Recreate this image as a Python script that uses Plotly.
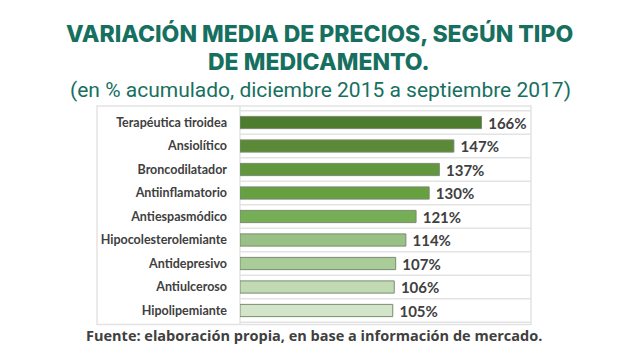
import plotly.graph_objects as go

categories = ["Terapéutica tiroidea", "Ansiolítico", "Broncodilatador", "Antiinflamatorio",
              "Antiespasmódico", "Hipocolesterolemiante", "Antidepresivo", "Antiulceroso",
              "Hipolipemiante"]
values = [166, 147, 137, 130, 121, 114, 107, 106, 105]
value_labels = [f" {v}%" for v in values]
bar_colors = ["#4E7C2E", "#5A8A36", "#62983D", "#66A041", "#76AE55",
              "#99C186", "#A9CC98", "#C1DAB3", "#D3E5C9"]

# page body has an 8px margin; work in figure pixels
OFF = 8
W, H = 640 - 2 * OFF, 362 - 2 * OFF
PL, PR, PT, PB = 240 - OFF, 531 - OFF, 110 - OFF, 323.5 - OFF
plot_w, plot_h = PR - PL, PB - PT

def px(x_ref):
    return (x_ref - OFF - PL) / plot_w

def py(y_ref):
    return (PB - (y_ref - OFF)) / plot_h

fig = go.Figure()
fig.add_trace(go.Bar(
    y=categories, x=values, orientation="h",
    marker=dict(color=bar_colors, line=dict(color="#7A8A72", width=1)),
    width=0.52,
    text=value_labels, textposition="outside", constraintext="none",
    textfont=dict(family="Lato, Open Sans, sans-serif", size=15, color="#404040", weight="bold"),
    cliponaxis=False,
    hoverinfo="skip",
))

shapes = []
for i in range(len(categories) + 1):
    shapes.append(dict(type="line", xref="paper", yref="y", x0=0, x1=1,
                       y0=i - 0.5, y1=i - 0.5,
                       line=dict(color="#E3E3E3", width=1.5), layer="below"))
shapes.append(dict(type="line", xref="paper", yref="paper", x0=0, x1=0,
                   y0=py(325), y1=py(106),
                   line=dict(color="#E3E3E3", width=1.5), layer="below"))
shapes.append(dict(type="rect", xref="paper", yref="paper", x0=px(97), x1=px(531),
                   y0=py(325), y1=py(106), line=dict(color="#E3E3E3", width=1.5),
                   fillcolor="rgba(0,0,0,0)", layer="below"))

title_font = dict(family="Inter, sans-serif", size=23, color="#17705F", weight=800)

fig.update_layout(
    width=W, height=H,
    margin=dict(l=PL, r=W - PR, t=PT, b=H - PB, autoexpand=False),
    paper_bgcolor="white", plot_bgcolor="white",
    showlegend=False,
    shapes=shapes,
    xaxis=dict(range=[0, 200], visible=False, fixedrange=True),
    yaxis=dict(autorange="reversed", showgrid=False, zeroline=False, showline=False,
               ticks="", ticklabelstandoff=12,
               tickfont=dict(family="Lato, Open Sans, sans-serif", size=12.5, color="#404040",
                             weight="bold"),
               fixedrange=True),
    annotations=[
        dict(text="VARIACIÓN MEDIA DE PRECIOS, SEGÚN TIPO",
             x=px(319), y=py(34), xref="paper", yref="paper", showarrow=False,
             font=title_font, xanchor="center", yanchor="middle"),
        dict(text="DE MEDICAMENTO.",
             x=px(319), y=py(61.5), xref="paper", yref="paper", showarrow=False,
             font=title_font, xanchor="center", yanchor="middle"),
        dict(text="(en % acumulado, diciembre 2015 a septiembre 2017)",
             x=px(320), y=py(90), xref="paper", yref="paper", showarrow=False,
             font=dict(family="Roboto, sans-serif", size=21, color="#17705F"),
             xanchor="center", yanchor="middle"),
        dict(text="<b>Fuente: elaboración propia, en base a información de mercado.</b>",
             x=px(314), y=py(336), xref="paper", yref="paper", showarrow=False,
             font=dict(family="Open Sans, sans-serif", size=14.5, color="#404040"),
             xanchor="center", yanchor="middle"),
    ],
)

fig.write_html("out.html")
